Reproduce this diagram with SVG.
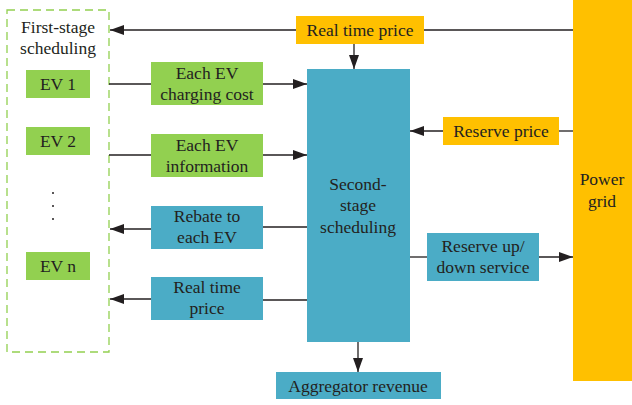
<svg xmlns="http://www.w3.org/2000/svg" width="632" height="405" viewBox="0 0 632 405">
<defs>
<marker id="ah" markerWidth="14" markerHeight="10" refX="14" refY="5" orient="auto" markerUnits="userSpaceOnUse">
<path d="M0,0 L14,5 L0,10 Z" fill="#231F20"/>
</marker>
<style>
.g{fill:#92D050}
.b{fill:#4BACC6}
.o{fill:#FFC000}
.c{stroke:#231F20;stroke-width:1.3;fill:none}
</style>
</defs>
<rect width="632" height="405" fill="#fff"/>
<g font-family="Liberation Serif, Times New Roman, serif" font-size="17.5" fill="#231F20" text-anchor="middle">
<g id="first-stage">
<rect x="7" y="10" width="102" height="342" fill="none" stroke="#92D050" stroke-width="1.3" stroke-dasharray="8,5"/>
<text x="58" y="33">First-stage</text>
<text x="58" y="54">scheduling</text>
</g>
<g id="ev1"><rect class="g" x="26" y="70" width="64" height="28"/><text x="58" y="90">EV 1</text></g>
<g id="ev2"><rect class="g" x="26" y="127" width="64" height="28"/><text x="58" y="147">EV 2</text></g>
<g id="dots"><circle cx="53" cy="193" r="1" fill="#231F20"/><circle cx="53" cy="206" r="1" fill="#231F20"/><circle cx="53" cy="219" r="1" fill="#231F20"/></g>
<g id="evn"><rect class="g" x="26" y="252" width="64" height="28"/><text x="58" y="272">EV n</text></g>
<g id="charging-cost"><rect class="g" x="151" y="62" width="112" height="43"/><text x="207" y="79">Each EV</text><text x="207" y="100">charging cost</text></g>
<g id="ev-info"><rect class="g" x="151" y="134" width="112" height="43"/><text x="207" y="151">Each EV</text><text x="207" y="172">information</text></g>
<g id="rebate"><rect class="b" x="151" y="206" width="112" height="43"/><text x="207" y="222">Rebate to</text><text x="207" y="243">each EV</text></g>
<g id="rt-price-low"><rect class="b" x="151" y="277" width="112" height="43"/><text x="207" y="293">Real time</text><text x="207" y="314">price</text></g>
<g id="second-stage"><rect class="b" x="307" y="69" width="103" height="273"/><text x="358" y="190">Second-</text><text x="358" y="211">stage</text><text x="358" y="233">scheduling</text></g>
<g id="rt-price-top"><rect class="o" x="296" y="16" width="128" height="28"/><text x="360" y="36">Real time price</text></g>
<g id="reserve-price"><rect class="o" x="443" y="117" width="116" height="28"/><text x="501" y="137">Reserve price</text></g>
<g id="reserve-service"><rect class="b" x="427" y="233" width="112" height="48"/><text x="483" y="252">Reserve up/</text><text x="483" y="273">down service</text></g>
<g id="power-grid"><rect class="o" x="573" y="0" width="59" height="381"/><text x="602" y="185">Power</text><text x="602" y="207">grid</text></g>
<g id="aggregator"><rect class="b" x="276" y="372" width="165" height="27"/><text x="358" y="392">Aggregator revenue</text></g>
</g>
<g id="connectors">
<path class="c" d="M573,30 H424"/>
<path class="c" d="M296,30 H110" marker-end="url(#ah)"/>
<path class="c" d="M354,44 V69" marker-end="url(#ah)"/>
<path class="c" d="M109,84 H151"/>
<path class="c" d="M263,84 H307" marker-end="url(#ah)"/>
<path class="c" d="M109,155 H151"/>
<path class="c" d="M263,155 H307" marker-end="url(#ah)"/>
<path class="c" d="M573,131 H559"/>
<path class="c" d="M443,131 H410" marker-end="url(#ah)"/>
<path class="c" d="M307,227 H263"/>
<path class="c" d="M151,229 H110" marker-end="url(#ah)"/>
<path class="c" d="M307,300 H263"/>
<path class="c" d="M151,299 H110" marker-end="url(#ah)"/>
<path class="c" d="M410,257 H427"/>
<path class="c" d="M539,257 H573" marker-end="url(#ah)"/>
<path class="c" d="M358,342 V372" marker-end="url(#ah)"/>
</g>
</svg>
